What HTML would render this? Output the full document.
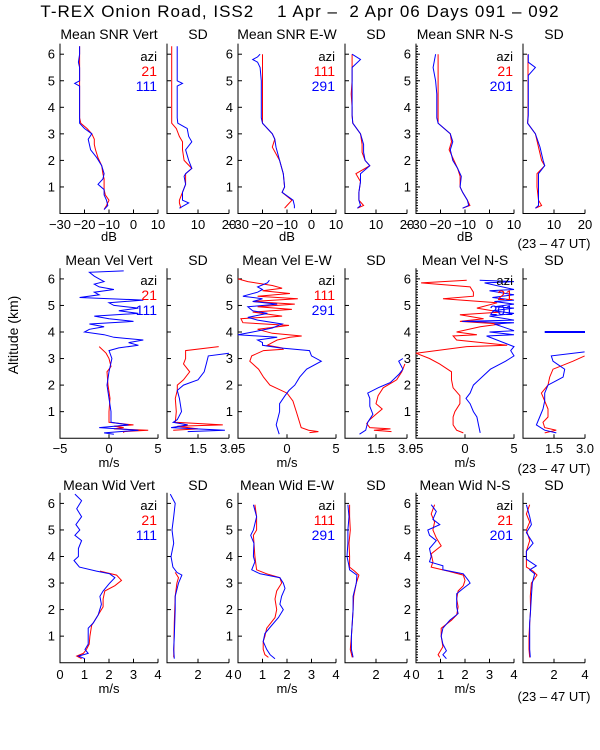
<!DOCTYPE html>
<html><head><meta charset="utf-8">
<style>
html,body{margin:0;padding:0;background:#fff;}
svg{display:block;font-family:"Liberation Sans",sans-serif;}
</style></head>
<body>
<svg id="chart" width="600" height="750" viewBox="0 0 600 750" xmlns="http://www.w3.org/2000/svg">
<rect width="600" height="750" fill="#fff"/>
<text x="300" y="17" font-size="17" letter-spacing="1" text-anchor="middle" xml:space="preserve">T-REX Onion Road, ISS2    1 Apr –  2 Apr 06 Days 091 – 092</text>
<text transform="translate(18,335) rotate(-90)" font-size="14" text-anchor="middle">Altitude (km)</text>
<g id="plots"></g>
</svg>
<script>
// ---- data (altitude km, value) ----
const p1Alt=[0.15,0.3,0.5,0.7,0.9,1.1,1.3,1.5,1.8,2.1,2.4,2.6,2.8,3.0,3.2,3.4,3.6,4.0,4.5,4.8,4.9,5.0,5.5,5.7,6.0,6.3];
const p1Red=[-12,-11,-10,-11.5,-12,-12,-12,-12.5,-13,-14.5,-15.5,-16,-16,-17,-19,-21.5,-22,-22,-22,-22,-22,-22,-22,-22,-22,-22];
const p1Blue=[-12,-10.5,-11,-12,-12,-14.5,-12.5,-12,-13,-15,-17.5,-18,-18.5,-17,-20,-22,-22,-22,-22,-22,-24,-22,-22,-22.5,-22,-22];
const p2Alt=[0.2,0.4,0.5,0.8,1.1,1.4,1.5,1.7,2.0,2.4,2.7,2.9,3.2,3.4,3.6,4.0,4.5,4.8,4.9,5.0,5.5,6.0,6.3];
const p2Red=[4.5,4,4,5,6,6,6,8,5.5,5,5,4,3,1.5,1.5,1.5,1.5,1.5,1.5,1.5,1.5,1.5,1.5];
const p2Blue=[4,7,5,5,6,5.5,6,8,7,6,8,7,6.5,3.5,3.3,3.3,3.3,3.3,5,3.3,3.3,3.3,3.3];
const p3Alt=[0.2,0.3,0.5,0.8,1.0,1.5,2.0,2.5,2.8,3.0,3.2,3.4,3.6,4.0,4.5,5.0,5.5,5.7,5.8,5.9,6.0];
const p3Red=[-11,-10,-8,-12,-11,-11.5,-13,-16,-15,-16,-18,-20,-20,-20,-20,-20,-20,-20,-20,-20,-20];
const p3Blue=[-7,-7,-7.5,-12,-11,-11.5,-13,-14.5,-15,-16,-18,-20,-20.5,-20.5,-20.5,-20.5,-21,-22,-24,-22,-21];
const p4Alt=[0.2,0.3,0.5,0.8,1.2,1.5,1.8,2.0,2.3,2.6,3.0,3.4,3.7,4.0,4.5,5.0,5.5,5.8,6.0];
const p4Red=[4,6,4.5,4.5,5,3.5,8,6.5,5.5,5.5,5,2.5,2.3,2.3,2,2.3,2.3,2.3,2.3];
const p4Blue=[4,5,4.5,4.5,5,5,8,6.5,6,6,5,2.5,2.3,2.3,2.3,2.3,2.3,5,2.3];
const p5Alt=[0.2,0.3,0.5,0.8,1.0,1.4,1.7,2.0,2.4,2.7,3.0,3.4,3.6,4.0,4.5,5.0,5.5,6.0];
const p5Red=[-11,-8,-9,-11,-12,-12,-13,-14.5,-16.5,-15.5,-16,-21,-21,-21,-21,-21,-21,-21];
const p5Blue=[-11,-8.5,-9,-11,-12,-11.5,-13,-15,-16,-15,-16,-21,-21.5,-21.5,-21.5,-22,-23,-22];
const p6Alt=[0.2,0.3,0.5,1.0,1.5,1.8,2.0,2.5,3.0,3.4,3.7,4.0,4.5,5.0,5.2,5.5,5.7,6.0];
const p6Red=[4,6,5,4.5,4.5,7,6,5,4,1.5,1.6,1.6,1.6,1.6,1.6,1.6,1.6,1.6];
const p6Blue=[4,5,5,5,5,7,6.5,5.5,4,1.5,1.7,1.7,1.7,1.7,1.7,4,1.7,1.7];
const p7RedAlt=[0.2,0.25,0.3,0.35,0.4,0.45,0.5,0.6,1.0,1.5,2.0,2.5,2.7,3.0,3.2,3.45];
const p7Red=[1.5,1.5,4,0.5,1.5,0.5,2.5,0,0,0.1,-0.1,-0.2,0.2,0,-0.3,-1];
const p7BlueAlt=[0.15,0.2,0.3,0.4,0.5,0.6,1.0,1.5,2.0,2.5,3.0,3.3,3.4,3.5,3.6,3.7,3.8,3.9,4.0,4.1,4.2,4.3,4.4,4.5,4.6,4.7,4.8,4.9,5.0,5.1,5.2,5.3,5.4,5.5,5.6,5.7,5.8,5.9,6.0,6.1,6.25,6.3];
const p7Blue=[0.5,-0.5,3,-1,2,0.2,0.2,0,-0.2,0,0.3,0,1,3,2,3.5,0.5,-0.5,-2.5,-2,-0.5,-2,2.5,0,-1.5,3,1,3,0.5,0,3.5,-3,-1,-1.5,0.5,-1,-1.5,-0.5,-1,-1.5,-2,1.5];
const p8RedAlt=[0.3,0.35,0.45,0.5,0.6,1.0,1.5,1.8,2.0,2.2,2.5,2.8,3.0,3.3,3.45];
const p8Red=[0.3,1.5,0.5,2.7,0.4,0.45,0.4,0.5,0.5,0.8,1.1,0.8,0.9,0.9,2.5];
const p8BlueAlt=[0.25,0.3,0.4,0.5,0.6,0.7,1.0,1.5,1.8,2.0,2.2,2.5,2.8,3.1,3.2];
const p8Blue=[1.0,2.8,0.2,1.0,0.3,0.5,0.7,0.6,0.5,0.8,1.5,1.8,1.9,2.0,3.0];
const p9RedAlt=[0.21,0.25,0.3,0.4,1.0,1.4,1.7,2.0,2.3,2.6,2.9,3.1,3.3,3.35,3.4,3.5,3.6,3.7,3.8,3.85,3.95,4.1,4.25,4.35,4.5,4.6,4.75,4.85,4.95,5.05,5.15,5.25,5.35,5.45,5.55,5.65,5.75,5.9,6.0];
const p9Red=[2.3,3.2,2.2,1.45,0.95,0.6,0,-1.75,-2.4,-2.9,-3.8,-3.6,-2.4,-0.4,-0.5,-2,-1.5,-1,0.3,1.5,-1.5,-3,0.2,-4.5,-4.7,-0.5,-3.5,0.5,-3,0.8,-3.5,1.1,-3,0.3,-2.5,-0.5,-1.5,-4,-5];
const p9BlueAlt=[0.15,0.5,1.0,1.3,1.6,1.8,2.0,2.3,2.6,2.9,3.1,3.3,3.4,3.5,3.6,3.7,3.8,3.9,4.0,4.15,4.3,4.45,4.55,4.7,4.8,4.95,5.05,5.15,5.25,5.35,5.5,5.6,5.7,5.85,5.95];
const p9Blue=[-0.8,-1.1,-0.75,-0.75,-0.2,0.2,0.8,1.3,2,3.5,2.5,2.3,-0.75,-2.5,-2.5,-3,-1,-5,-3.5,-1.5,-0.5,-3,-4,-2,-3.5,-4,-1,-3.5,-2.5,-4.5,-3,-2.5,-3,-2,-1.8];
const p10RedAlt=[0.25,0.3,0.35,0.4,0.55,0.7,0.9,1.1,1.3,1.6,1.9,2.2,2.5,2.8];
const p10Red=[2.25,1.4,2.2,1.2,1.05,1.2,1.5,1.8,1.5,1.6,1.85,2.5,2.75,2.9];
const p10BlueAlt=[0.15,0.3,0.6,0.9,1.2,1.5,1.7,1.9,2.1,2.4,2.6,2.9,3.0];
const p10Blue=[0.7,1.0,1.1,1.35,1.2,1.2,1.1,1.6,2.2,2.6,2.8,2.6,2.8];
const p11RedAlt=[0.2,0.3,0.5,0.8,1.0,1.3,1.6,1.9,2.2,2.5,2.8,3.0,3.2,3.45,3.5,3.7,3.85,3.9,4.0,4.2,4.3,4.4,4.5,4.65,4.75,4.9,5.1,5.25,5.35,5.5,5.7,5.85,5.95];
const p11Red=[-0.17,-0.86,-1.21,-1.21,-1.03,-0.52,-0.52,-1.21,-1.38,-1.38,-2.59,-3.62,-5,0.17,4.31,-0.86,-1.21,1.21,-0.86,1.55,3.62,-0.52,1.9,-0.52,3.62,1.21,3.28,-2.24,0.86,0.86,0.52,-4.48,0.17];
const p11BlueAlt=[0.2,0.5,0.8,1.0,1.3,1.5,1.7,2.0,2.3,2.6,2.9,3.1,3.3,3.45,3.85,3.9,4.0,4.05,4.3,4.35,4.4,4.45,4.6,4.7,4.8,4.9,4.95,5.05,5.15,5.2,5.3,5.4,5.55,5.6,5.85,5.9,5.95];
const p11Blue=[1.55,1.38,1.21,0.86,0.52,0.1,0.52,0.86,1.72,2.59,4.14,5,4.66,5,2.2,5,2.5,5,3,5,-0.3,5,2.5,5,2.8,5,3,5,3,5,2.8,5,2.5,5,2,5,1.5];
const p12RedAlt=[0.2,0.3,0.4,0.6,0.8,1.1,1.4,1.7,2.0,2.3,2.6,2.9,3.1];
const p12Red=[1.05,1.61,1.05,0.97,1.21,1.21,1.05,0.89,1.21,1.29,1.45,2.42,2.98];
const p12BlueAlt=[0.2,0.3,0.5,0.8,1.1,1.4,1.7,2.0,2.3,2.6,2.9,3.1,3.25];
const p12Blue=[1.61,1.05,0.65,0.81,0.97,1.05,1.05,1.21,1.94,2.02,1.45,1.37,2.98];
const p12SegAlt=[4.0,4.0];
const p12Seg=[1.05,3.0];
const p13BlueAlt=[6.35,6.1,5.8,5.5,5.2,5.0,4.8,4.6,4.3,4.0,3.85,3.6,3.45,3.35,3.2,3.0,2.7,2.5,2.2,1.8,1.5,1.3,1.0,0.7,0.5,0.35,0.25,0.15];
const p13Blue=[0.61,0.88,0.68,0.88,0.65,0.81,0.61,0.88,0.75,0.75,0.57,0.79,1.49,2.03,2.24,2.03,1.76,1.63,1.69,1.56,1.36,1.15,1.15,1.15,1.02,1.15,0.75,1.02];
const p13RedAlt=[3.45,3.3,3.1,2.9,2.7,2.4,2.1,1.8,1.4,1.0,0.7,0.5,0.35,0.25,0.15];
const p13Red=[1.63,2.31,2.51,2.24,1.83,1.76,1.76,1.56,1.29,1.22,1.19,1.08,0.95,0.68,0.88];
const p14BlueAlt=[6.35,6.0,5.5,5.0,4.5,4.0,3.6,3.4,3.3,3.0,2.5,2.0,1.0,0.5,0.15];
const p14Blue=[0.21,0.53,0.43,0.32,0.43,0.26,0.38,0.64,0.96,0.74,0.53,0.53,0.47,0.43,0.47];
const p14RedAlt=[3.4,3.2,3.0,2.5,1.5,0.2];
const p14Red=[0.53,0.74,0.64,0.53,0.47,0.43];
const p15BlueAlt=[5.95,5.5,5.0,4.8,4.5,4.0,3.8,3.5,3.35,3.2,3.0,2.8,2.5,2.2,2.0,1.7,1.4,1.1,0.8,0.5,0.3,0.15];
const p15Blue=[0.63,0.76,0.63,0.52,0.65,0.63,0.69,0.56,0.9,1.71,1.85,1.92,1.78,1.71,1.85,1.65,1.37,1.1,1.03,1.17,1.31,1.51];
const p15RedAlt=[5.95,5.5,5.0,4.8,4.0,3.5,3.35,3.2,3.0,2.7,2.4,2.0,1.7,1.3,1.0,0.8,0.5,0.3,0.2];
const p15Red=[0.69,0.76,0.76,0.63,0.69,0.76,1.17,1.71,1.78,1.58,1.51,1.58,1.51,1.17,1.1,1.03,1.03,1.1,1.24];
const p16RedAlt=[5.95,5.5,5.0,4.5,4.0,3.6,3.45,3.3,3.0,2.5,2.0,1.5,1.0,0.5,0.2];
const p16Red=[0.3,0.3,0.34,0.26,0.3,0.3,0.62,0.9,0.73,0.56,0.52,0.47,0.41,0.34,0.47];
const p16BlueAlt=[5.95,5.5,5.0,4.5,4.0,3.7,3.5,3.3,3.0,2.5,2.0,1.0,0.5,0.2];
const p16Blue=[0.19,0.26,0.19,0.19,0.13,0.24,0.3,0.77,0.73,0.52,0.52,0.41,0.41,0.52];
const p17BlueAlt=[5.95,5.7,5.4,5.2,5.0,4.8,4.6,4.3,4.0,3.8,3.65,3.5,3.35,3.1,3.0,2.8,2.6,2.4,2.1,1.85,1.6,1.3,1.0,0.7,0.45,0.3,0.15];
const p17Blue=[0.62,0.83,0.69,0.97,0.48,0.55,0.83,0.55,0.62,0.55,1.1,1.1,1.93,2.14,2.21,1.93,1.66,1.66,1.66,1.72,1.38,1.1,1.03,1.1,1.24,1.1,1.24];
const p17RedAlt=[5.95,5.6,5.3,5.0,4.7,4.4,4.1,3.8,3.6,3.45,3.3,3.1,2.9,2.7,2.4,2.1,1.8,1.6,1.3,1.0,0.6,0.3,0.2];
const p17Red=[0.76,0.62,0.76,0.69,0.83,1.03,0.62,0.69,0.62,1.31,1.93,2.0,1.93,1.72,1.66,1.72,1.66,1.45,1.03,1.03,1.1,0.9,0.97];
const p18RedAlt=[5.95,5.6,5.3,5.0,4.6,4.2,3.8,3.6,3.45,3.3,3.0,2.5,2.0,1.5,1.0,0.5,0.2];
const p18Red=[0.43,0.22,0.43,0.22,0.43,0.22,0.22,0.22,0.65,0.9,0.54,0.47,0.49,0.43,0.39,0.39,0.43];
const p18BlueAlt=[5.95,5.5,5.2,4.9,4.5,4.2,3.9,3.65,3.5,3.35,3.0,2.5,2.0,1.5,1.0,0.5,0.2];
const p18Blue=[0.22,0.43,0.54,0.22,0.65,0.22,0.22,0.86,0.43,0.75,0.6,0.54,0.49,0.43,0.43,0.43,0.47];

const altTicks=[1,2,3,4,5,6];
const snrTicks=[-30,-20,-10,0,10], snrSdTicks=[10,20];
const velTicks=[-5,0,5], velSdTicks=[1.5,3.0], velSdLabels=["1.5","3.0"];
const widTicks=[0,1,2,3,4], widSdTicks=[2,4];

const NS="http://www.w3.org/2000/svg";
const root=document.getElementById('plots');
function mk(tag,attrs,parent){const e=document.createElementNS(NS,tag);for(const k in attrs)e.setAttribute(k,attrs[k]);(parent||root).appendChild(e);return e;}

const cols=[[60,158],[167,229],[238,336],[345,407],[416,514],[523,585]];
const rows=[{b:213.5,title:39,tick:229,unit:241,ut:248,leg:61,unitTxt:"dB"},
            {b:438.2,title:265,tick:453,unit:467,ut:473,leg:285,unitTxt:"m/s"},
            {b:662.7,title:490,tick:679,unit:693,ut:701,leg:510,unitTxt:"m/s"}];
const KM=26.55;
const panels=[
 {r:0,c:0,t:"Mean SNR Vert",min:-30,max:10,ticks:snrTicks,s:[[p1Alt,p1Red,'red'],[p1Alt,p1Blue,'blue']],leg:["21","111"],name:"snr-vert"},
 {r:0,c:1,t:"SD",min:0,max:20,ticks:snrSdTicks,s:[[p2Alt,p2Red,'red'],[p2Alt,p2Blue,'blue']],name:"snr-vert-sd"},
 {r:0,c:2,t:"Mean SNR E-W",min:-30,max:10,ticks:snrTicks,s:[[p3Alt,p3Red,'red'],[p3Alt,p3Blue,'blue']],leg:["111","291"],name:"snr-ew"},
 {r:0,c:3,t:"SD",min:0,max:20,ticks:snrSdTicks,s:[[p4Alt,p4Red,'red'],[p4Alt,p4Blue,'blue']],name:"snr-ew-sd"},
 {r:0,c:4,t:"Mean SNR N-S",min:-30,max:10,ticks:snrTicks,s:[[p5Alt,p5Red,'red'],[p5Alt,p5Blue,'blue']],leg:["21","201"],name:"snr-ns",minor:true},
 {r:0,c:5,t:"SD",min:0,max:20,ticks:snrSdTicks,s:[[p6Alt,p6Red,'red'],[p6Alt,p6Blue,'blue']],name:"snr-ns-sd"},
 {r:1,c:0,t:"Mean Vel Vert",min:-5,max:5,ticks:velTicks,s:[[p7RedAlt,p7Red,'red'],[p7BlueAlt,p7Blue,'blue']],leg:["21","111"],name:"vel-vert"},
 {r:1,c:1,t:"SD",min:0,max:3,ticks:velSdTicks,labels:velSdLabels,s:[[p8RedAlt,p8Red,'red'],[p8BlueAlt,p8Blue,'blue']],name:"vel-vert-sd"},
 {r:1,c:2,t:"Mean Vel E-W",min:-5,max:5,ticks:velTicks,s:[[p9RedAlt,p9Red,'red'],[p9BlueAlt,p9Blue,'blue']],leg:["111","291"],name:"vel-ew"},
 {r:1,c:3,t:"SD",min:0,max:3,ticks:velSdTicks,labels:velSdLabels,s:[[p10RedAlt,p10Red,'red'],[p10BlueAlt,p10Blue,'blue']],name:"vel-ew-sd"},
 {r:1,c:4,t:"Mean Vel N-S",min:-5,max:5,ticks:velTicks,s:[[p11RedAlt,p11Red,'red'],[p11BlueAlt,p11Blue,'blue']],leg:["21","201"],name:"vel-ns",minor:true},
 {r:1,c:5,t:"SD",min:0,max:3,ticks:velSdTicks,labels:velSdLabels,s:[[p12RedAlt,p12Red,'red'],[p12BlueAlt,p12Blue,'blue'],[p12SegAlt,p12Seg,'blue',2]],name:"vel-ns-sd"},
 {r:2,c:0,t:"Mean Wid Vert",min:0,max:4,ticks:widTicks,s:[[p13RedAlt,p13Red,'red'],[p13BlueAlt,p13Blue,'blue']],leg:["21","111"],name:"wid-vert"},
 {r:2,c:1,t:"SD",min:0,max:4,ticks:widSdTicks,s:[[p14RedAlt,p14Red,'red'],[p14BlueAlt,p14Blue,'blue']],name:"wid-vert-sd"},
 {r:2,c:2,t:"Mean Wid E-W",min:0,max:4,ticks:widTicks,s:[[p15RedAlt,p15Red,'red'],[p15BlueAlt,p15Blue,'blue']],leg:["111","291"],name:"wid-ew"},
 {r:2,c:3,t:"SD",min:0,max:4,ticks:widSdTicks,s:[[p16RedAlt,p16Red,'red'],[p16BlueAlt,p16Blue,'blue']],name:"wid-ew-sd"},
 {r:2,c:4,t:"Mean Wid N-S",min:0,max:4,ticks:widTicks,s:[[p17RedAlt,p17Red,'red'],[p17BlueAlt,p17Blue,'blue']],leg:["21","201"],name:"wid-ns",minor:true},
 {r:2,c:5,t:"SD",min:0,max:4,ticks:widSdTicks,s:[[p18RedAlt,p18Red,'red'],[p18BlueAlt,p18Blue,'blue']],name:"wid-ns-sd"}
];
const COL={red:'#ff0000',blue:'#0000ff'};

panels.forEach(p=>{
  const R=rows[p.r],[x0,x1]=cols[p.c];
  const g=mk('g',{});
  
  
  const xs=v=>x0+(v-p.min)/(p.max-p.min)*(x1-x0);
  const ys=a=>R.b-a*KM;
  const top=R.b-6.4*KM;
  const ax=mk('path',{d:`M${x0} ${top}V${R.b}H${x1}`,fill:'none',stroke:'#000','stroke-width':1},g);
  
  
  const tt=mk('text',{x:(x0+x1)/2,y:R.title,'font-size':14,'text-anchor':'middle'},g);
  tt.textContent=p.t;
  
  
  if(p.minor){for(let a=0.1;a<6.35;a+=0.1){mk('line',{x1:x0,x2:x0+2,y1:ys(a),y2:ys(a),stroke:'#000','stroke-width':1},g);}}
  altTicks.forEach(a=>{
    mk('line',{x1:x0,x2:x0+4,y1:ys(a),y2:ys(a),stroke:'#000','stroke-width':1},g);
    if(p.c%2===0){const l=mk('text',{x:x0-5,y:ys(a)+4.5,'font-size':13,'text-anchor':'end'},g);l.textContent=a;
      
      }
  });
  p.ticks.forEach((t,i)=>{
    mk('line',{x1:xs(t),x2:xs(t),y1:R.b,y2:R.b-4,stroke:'#000','stroke-width':1},g);
    const l=mk('text',{x:xs(t),y:R.tick,'font-size':13,'text-anchor':'middle'},g);
    l.textContent=p.labels?p.labels[i]:(t<0?'−'+(-t):String(t));
    
    
  });
  if(p.c%2===0){const u=mk('text',{x:(x0+x1)/2,y:R.unit,'font-size':13,'text-anchor':'middle'},g);u.textContent=R.unitTxt;
    
    }
  if(p.c===5){const u=mk('text',{x:554,y:R.ut,'font-size':13,'text-anchor':'middle'},g);u.textContent='(23 – 47 UT)';
    
    }
  p.s.forEach(([al,vals,c,w])=>{
    const d=vals.map((v,i)=>(i?'L':'M')+xs(v).toFixed(1)+' '+ys(al[i]).toFixed(1)).join('');
    const pl=mk('path',{d:d,fill:'none',stroke:COL[c],'stroke-width':w||1},g);
    
    
  });
  if(p.leg){
    const lx=x1-1;
    const a=mk('text',{x:lx,y:R.leg,'font-size':13,'text-anchor':'end'},g);a.textContent='azi';
    
    
    const r=mk('text',{x:lx,y:R.leg+15,'font-size':14,'text-anchor':'end',fill:COL.red},g);r.textContent=p.leg[0];
    
    
    const b=mk('text',{x:lx,y:R.leg+30,'font-size':14,'text-anchor':'end',fill:COL.blue},g);b.textContent=p.leg[1];
    
    
  }
});
</script>
</body></html>
